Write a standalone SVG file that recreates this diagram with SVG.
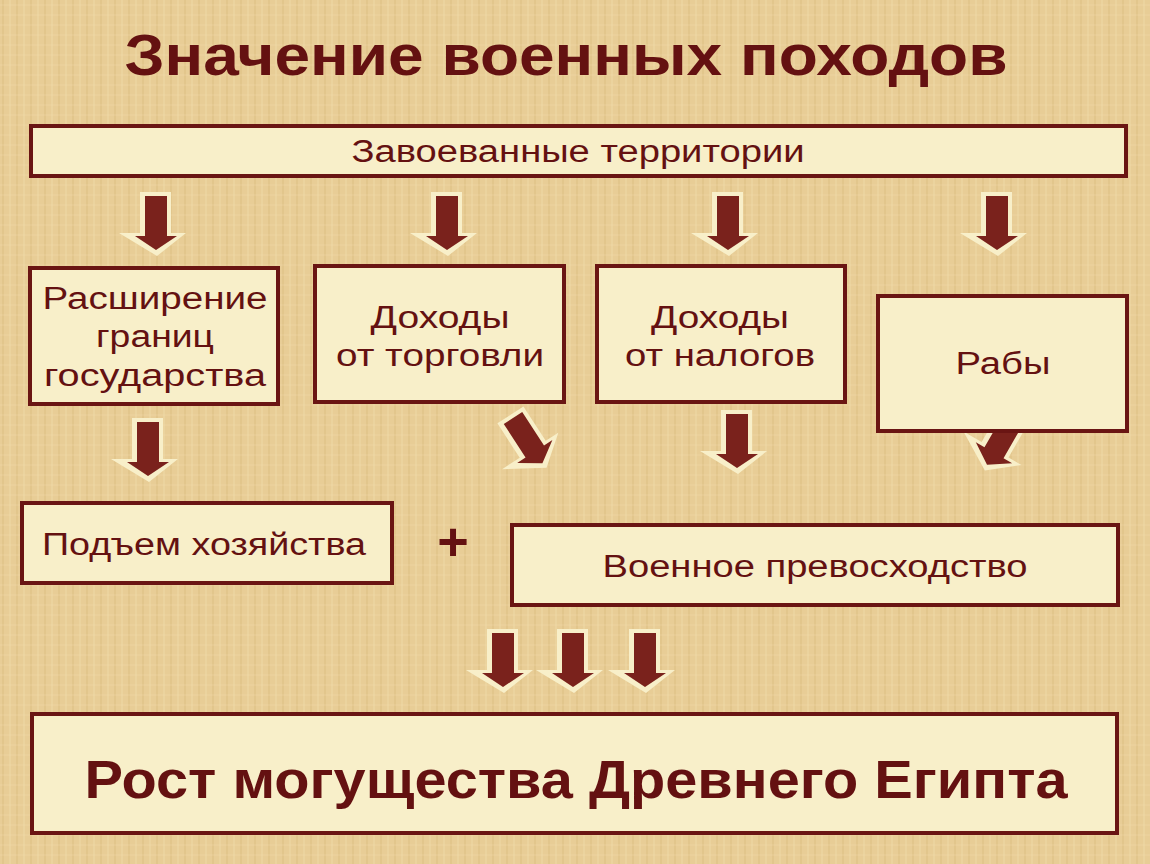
<svg xmlns="http://www.w3.org/2000/svg" xmlns:xlink="http://www.w3.org/1999/xlink" width="1150" height="864" viewBox="0 0 1150 864">
<style>
.box{fill:#f8efc9;stroke:#6a1513;stroke-width:4}
.t{font-family:"Liberation Sans",Arial,sans-serif;font-size:31px;fill:#641111;text-anchor:middle}
.b{font-family:"Liberation Sans",Arial,sans-serif;font-weight:bold;fill:#641111;text-anchor:middle}
</style>
<defs>
<pattern id="tex" width="14" height="10" patternUnits="userSpaceOnUse">
<rect width="14" height="10" fill="#e8cd96"/>
<line x1="3" y1="0" x2="3" y2="10" stroke="#dcbd82" stroke-width="1.5" opacity="0.6"/>
<line x1="10" y1="0" x2="10" y2="10" stroke="#f0daa8" stroke-width="1.5" opacity="0.6"/>
<line x1="0" y1="5" x2="14" y2="5" stroke="#f1dcae" stroke-width="1" opacity="0.4"/>
</pattern>
<g id="arr">
<path d="M-16,-4 H15 V37 H30 L1,60 L-37,37 H-16 Z" fill="#f8efc9"/>
<path d="M-11,0 H11 V40 H21 L0,54 L-21,40 H-11 Z" fill="#7a221c"/>
</g>
</defs>
<rect width="1150" height="864" fill="url(#tex)"/>
<text class="b" x="566" y="75" font-size="57" textLength="883" lengthAdjust="spacingAndGlyphs">Значение военных походов</text>

<g id="connectors">
<use xlink:href="#arr" transform="translate(156,196)"/>
<use xlink:href="#arr" transform="translate(447,196)"/>
<use xlink:href="#arr" transform="translate(728,196)"/>
<use xlink:href="#arr" transform="translate(997,196)"/>
<use xlink:href="#arr" transform="translate(148,422)"/>
<use xlink:href="#arr" transform="translate(513,418) rotate(-33)"/>
<use xlink:href="#arr" transform="translate(737,414)"/>
<use xlink:href="#arr" transform="translate(1014,418) rotate(30)"/>
<use xlink:href="#arr" transform="translate(503,633)"/>
<use xlink:href="#arr" transform="translate(573,633)"/>
<use xlink:href="#arr" transform="translate(645,633)"/>
</g>

<g id="territories">
<rect class="box" x="31" y="126" width="1095" height="50"/>
<text class="t" x="578" y="162" textLength="453" lengthAdjust="spacingAndGlyphs">Завоеванные территории</text>
</g>
<g id="borders">
<rect class="box" x="30" y="268" width="248" height="136"/>
<text class="t" x="155" y="309" textLength="225" lengthAdjust="spacingAndGlyphs">Расширение</text>
<text class="t" x="155" y="347" textLength="118" lengthAdjust="spacingAndGlyphs">границ</text>
<text class="t" x="155" y="386" textLength="222" lengthAdjust="spacingAndGlyphs">государства</text>
</g>
<g id="trade">
<rect class="box" x="315" y="266" width="249" height="136"/>
<text class="t" x="440" y="328" textLength="139" lengthAdjust="spacingAndGlyphs">Доходы</text>
<text class="t" x="440" y="366" textLength="208" lengthAdjust="spacingAndGlyphs">от торговли</text>
</g>
<g id="taxes">
<rect class="box" x="597" y="266" width="248" height="136"/>
<text class="t" x="720" y="328" textLength="138" lengthAdjust="spacingAndGlyphs">Доходы</text>
<text class="t" x="720" y="366" textLength="190" lengthAdjust="spacingAndGlyphs">от налогов</text>
</g>
<g id="slaves">
<rect class="box" x="878" y="296" width="249" height="135"/>
<text class="t" x="1003" y="374" textLength="95" lengthAdjust="spacingAndGlyphs">Рабы</text>
</g>
<g id="economy">
<rect class="box" x="22" y="503" width="370" height="80"/>
<text class="t" x="204" y="555" textLength="324" lengthAdjust="spacingAndGlyphs">Подъем хозяйства</text>
</g>
<text class="b" x="453" y="560" font-size="54">+</text>
<g id="military">
<rect class="box" x="512" y="525" width="606" height="80"/>
<text class="t" x="815" y="577" textLength="425" lengthAdjust="spacingAndGlyphs">Военное превосходство</text>
</g>
<g id="power">
<rect class="box" x="32" y="714" width="1085" height="119"/>
<text class="b" x="576" y="798" font-size="53" textLength="983" lengthAdjust="spacingAndGlyphs">Рост могущества Древнего Египта</text>
</g>
</svg>
